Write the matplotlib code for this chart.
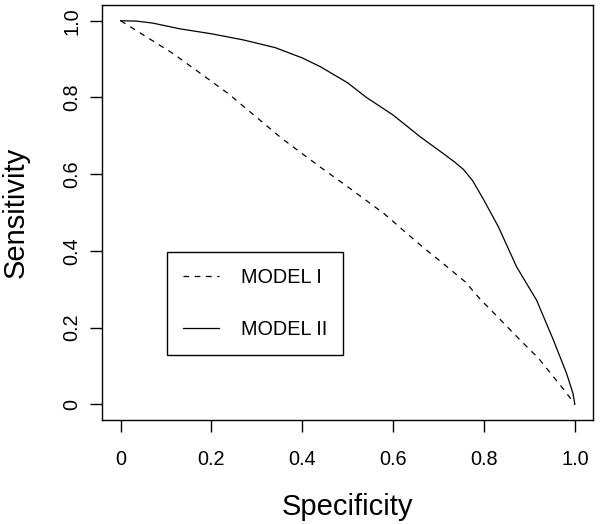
import matplotlib
matplotlib.use("Agg")
import matplotlib.pyplot as plt

plt.rcParams['font.family'] = ['Liberation Sans', 'DejaVu Sans']

# Model I (dashed)
spec_m1 = [0.0, 0.116, 0.237, 0.355, 0.44, 0.50, 0.58, 0.66, 0.71, 0.76, 0.79, 0.83, 0.88, 0.92, 0.98, 1.0]
sens_m1 = [1.0, 0.914, 0.810, 0.693, 0.618, 0.567, 0.497, 0.415, 0.367, 0.318, 0.276, 0.228, 0.167, 0.12, 0.032, 0.0]

# Model II (solid)
spec_m2 = [0.0, 0.035, 0.07, 0.13, 0.20, 0.27, 0.34, 0.40, 0.44, 0.50, 0.54, 0.60, 0.66, 0.71, 0.735, 0.755,
           0.775, 0.80, 0.832, 0.872, 0.916, 0.953, 0.982, 0.996, 1.0]
sens_m2 = [1.0, 0.999, 0.994, 0.979, 0.966, 0.950, 0.930, 0.903, 0.880, 0.838, 0.801, 0.754, 0.697, 0.654, 0.632, 0.612,
           0.583, 0.532, 0.462, 0.358, 0.271, 0.167, 0.080, 0.028, 0.0]

labels = ["MODEL I", "MODEL II"]
tick_vals = [0.0, 0.2, 0.4, 0.6, 0.8, 1.0]
tick_labels = ["0", "0.2", "0.4", "0.6", "0.8", "1.0"]

fig = plt.figure(figsize=(6.0, 5.24), dpi=100)
ax = fig.add_axes([0.1708, 0.1992, 0.8175, 0.7905])

lw = 0.9
ax.plot(spec_m1, sens_m1, color='black', lw=lw, linestyle=(0, (4.5, 4.5)), label=labels[0])
ax.plot(spec_m2, sens_m2, color='black', lw=lw, linestyle='-', label=labels[1])

ax.set_xlim(-0.04, 1.04)
ax.set_ylim(-0.04, 1.04)
ax.set_xticks(tick_vals)
ax.set_xticklabels(tick_labels)
ax.set_yticks(tick_vals)
ax.set_yticklabels(tick_labels, rotation=90, va='center')

for s in ax.spines.values():
    s.set_linewidth(1.0)
    s.set_color('black')

ax.tick_params(axis='both', direction='out', length=8.6, width=1.0, labelsize=14.3, colors='black')
ax.tick_params(axis='x', pad=13)
ax.tick_params(axis='y', pad=6.7)

ax.set_xlabel("Specificity", fontsize=21)
ax.set_ylabel("Sensitivity", fontsize=21)
ax.xaxis.set_label_coords(0.5, -0.177)
ax.yaxis.set_label_coords(-0.148, 0.5)

leg = ax.legend(loc='upper left', bbox_to_anchor=(0.1309, 0.4054), borderaxespad=0,
                fontsize=14.3, handlelength=1.85, handletextpad=1.1, labelspacing=1.7,
                borderpad=0.8, fancybox=False, framealpha=1, edgecolor='black')
leg.get_frame().set_linewidth(1.0)

fig.savefig("out.png", dpi=100)
